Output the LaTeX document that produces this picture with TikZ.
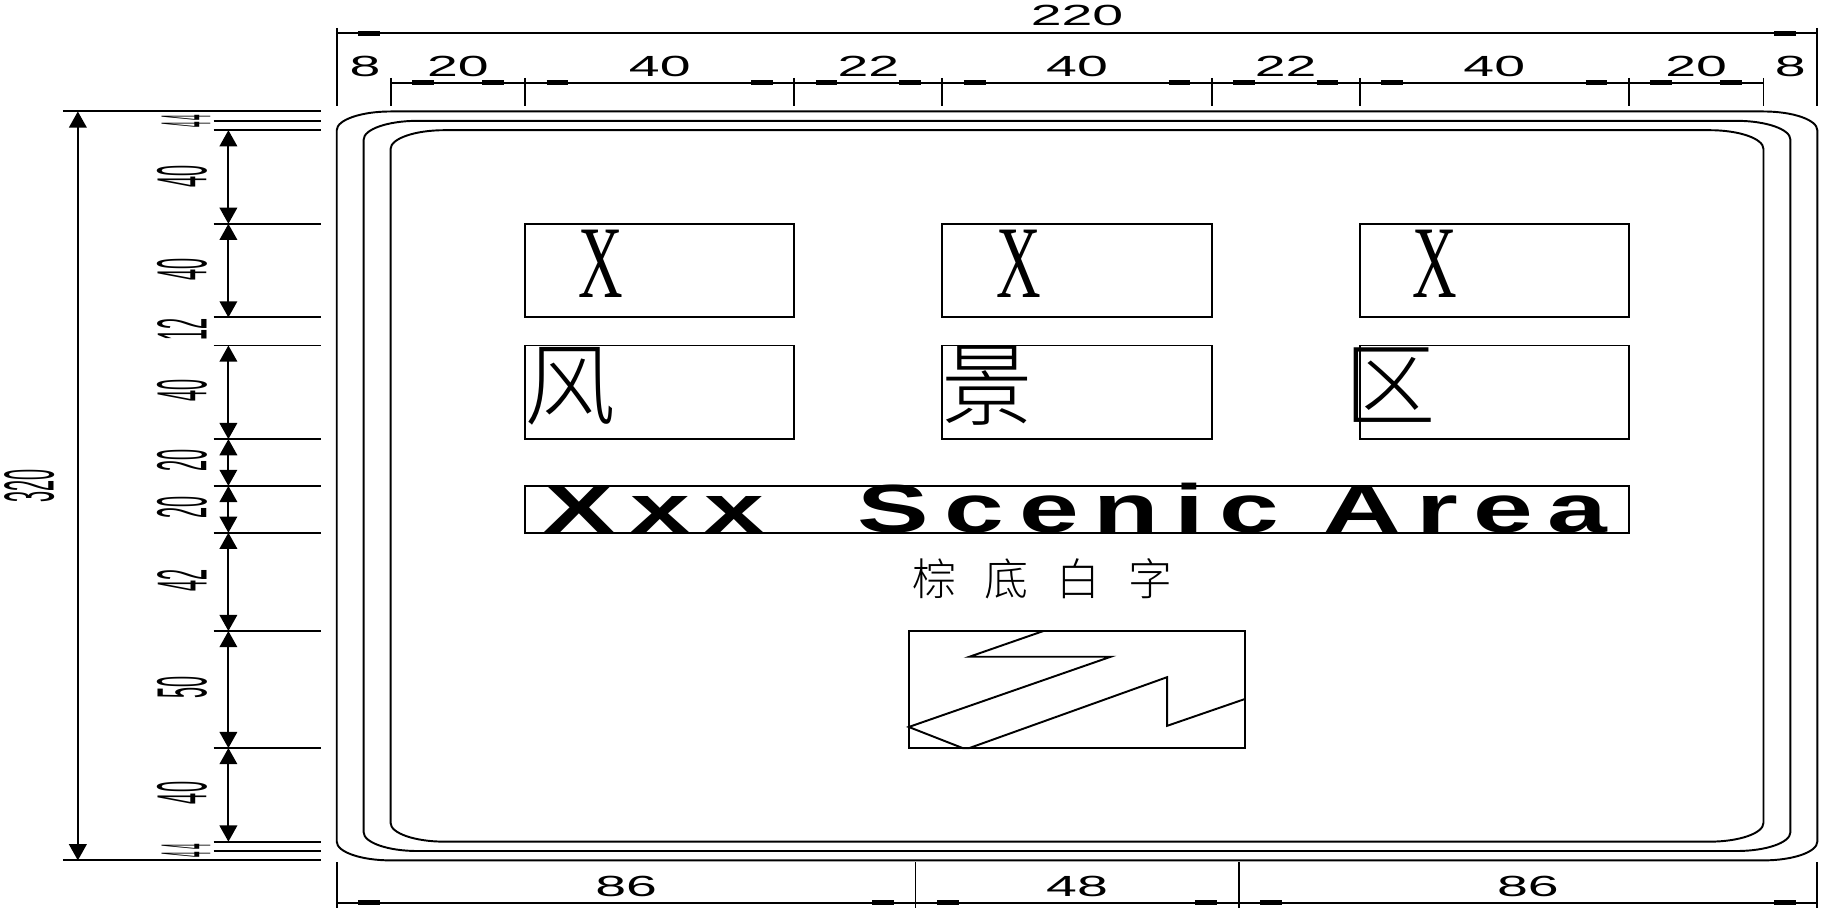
\documentclass[tikz,border=0pt]{standalone}
\usepackage{fontspec}
\setmainfont{Liberation Sans}
\newfontfamily\cjk{Noto Sans CJK SC Light}
\newfontfamily\serifx{Liberation Serif}
\newfontfamily\titlefont[LetterSpace=14]{Liberation Sans}
\usetikzlibrary{arrows.meta}
\tikzset{
  dimh/.style={font=\fontsize{8.3}{10}\selectfont,inner sep=0pt,xscale=1.9},
  dimv/.style={font=\fontsize{8.3}{10}\selectfont,inner sep=0pt,rotate=90,xscale=.68,yscale=2.43},
  dimline/.style={{Triangle[length=4.6pt,width=5pt]}-{Triangle[length=4.6pt,width=5pt]}},
  bar/.style={line width=1.4pt},
  bigx/.style={font=\serifx\fontsize{29.3}{32}\selectfont,inner sep=0pt,xscale=.6},
  bighan/.style={font=\cjk\fontsize{26}{28}\selectfont,inner sep=0pt},
}
\begin{document}
\begin{tikzpicture}[x=.0673cm,y=-.02341cm,line width=.55pt]
\useasboundingbox (-50.04,-47.63) rectangle (220.55,341.1);
% sign outline
\foreach \d in {0,4,8}
  \draw (\d,8+\d) .. controls (\d,3.6+\d) and (3.6+\d,\d) .. (8+\d,\d)
    -- (212-\d,\d) .. controls (216.4-\d,\d) and (220-\d,3.6+\d) .. (220-\d,8+\d)
    -- (220-\d,312-\d) .. controls (220-\d,316.4-\d) and (216.4-\d,320-\d) .. (212-\d,320-\d)
    -- (8+\d,320-\d) .. controls (3.6+\d,320-\d) and (\d,316.4-\d) .. (\d,312-\d) -- cycle;
% panels
\foreach \a in {28,90,152} {
  \draw (\a,48) rectangle +(40,40);
  \draw (\a,100) rectangle +(40,40);
}
\draw (28,160) rectangle (192,180);
\draw (85,222) rectangle (135,272);
\draw (105,222) -- (94,233) -- (115,233) -- (85,263) -- (93,272) -- (94,272)
  -- (123.4,241.7) -- (123.4,262.5) -- (135,251);
\node[bigx] (xa) at (39.2,65) {X};
\node[bigx] (xb) at (101.3,65) {X};
\node[bigx] (xc) at (163.2,65) {X};
\node[bighan] (feng) at (34.7,117.5) {风};
\node[bighan] (jing) at (96.6,117) {景};
\node[bighan] (qu) at (156.5,117) {区};
\node[font=\titlefont\fontsize{19.4}{21}\selectfont\bfseries,inner sep=0pt,xscale=1.575,anchor=base] (title) at (109.8,180) {Xxx\hspace{8.7pt} Scenic Area};
\node[font=\cjk\fontsize{12.5}{14}\selectfont,inner sep=0pt] (note) at (104.9,199.7) {棕\hspace{8pt}底\hspace{8pt}白\hspace{8pt}字};
% top dimensions
\draw (0,-35.7) -- (0,-2.35) (220,-35.7) -- (220,-2.35);
\draw (0,-33.5) -- (220,-33.5);
\draw[bar] (3.2,-33.5) -- (6.4,-33.5) (213.6,-33.5) -- (216.8,-33.5);
\node[dimh] (top) at (110,-40.9) {220};
\draw (8,-12.3) -- (212,-12.3);
\foreach \x in {8,28,68,90,130,152,192,212}
  \draw (\x,-14.3) -- (\x,-2.35);
\foreach \a/\b in {8/28,28/68,68/90,90/130,130/152,152/192,192/212} {
  \draw[bar] (\a+3.2,-12.3) -- (\a+6.4,-12.3) (\b-6.4,-12.3) -- (\b-3.2,-12.3);
}
\foreach \x/\t in {4.2/8,18/20,48/40,79/22,110/40,141/22,172/40,202/20,216/8}
  \node[dimh] at (\x,-19.2) {\t};
% bottom dimensions
\draw (0,320.9) -- (0,340.2) (86,320.9) -- (86,340.2) (134,320.9) -- (134,340.2) (220,320.9) -- (220,340.2);
\draw (0,338.1) -- (220,338.1);
\foreach \a/\b in {0/86,86/134,134/220} {
  \draw[bar] (\a+3.2,338.1) -- (\a+6.4,338.1) (\b-6.4,338.1) -- (\b-3.2,338.1);
}
\foreach \x/\t in {43/86,110/48,177/86}
  \node[dimh] at (\x,331.2) {\t};
% left dimensions
\draw (-40.7,0) -- (-2.35,0) (-40.7,320) -- (-2.35,320);
\foreach \y in {4,8,48,88,100,140,160,180,222,272,312,316}
  \draw (-18.3,\y) -- (-2.35,\y);
\draw[dimline] (-38.47,0) -- (-38.47,320);
\node[dimv] (height) at (-45.7,160) {320};
\foreach \a/\b in {8/48,48/88,100/140,140/160,160/180,180/222,222/272,272/312}
  \draw[dimline] (-16.1,\a) -- (-16.1,\b);
\foreach \y/\t in {27.6/40,67.4/40,93.3/12,119.2/40,149.3/20,169.3/20,200.6/42,246.2/50,291.2/40}
  \node[dimv] at (-23,\y) {\t};
\foreach \y in {2.6,5.8,314.2,317.8}
  \node[dimv,xscale=.5] at (-22.4,\y) {4};
\end{tikzpicture}
\end{document}
